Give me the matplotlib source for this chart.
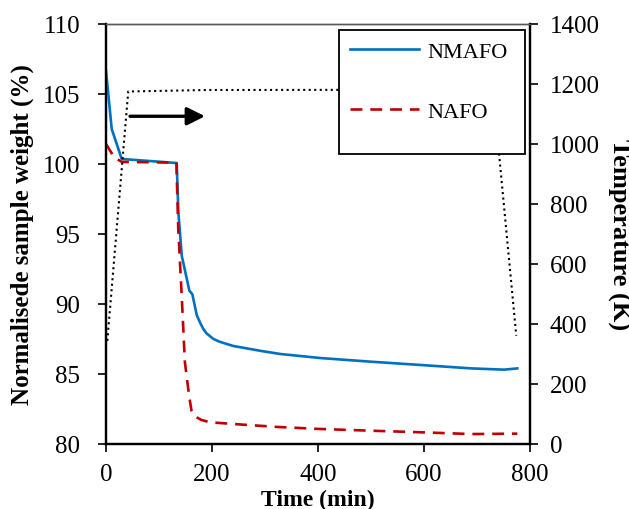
import matplotlib
matplotlib.use("Agg")
import matplotlib.pyplot as plt
from matplotlib.patches import Rectangle

plt.rcParams['font.family'] = ['Liberation Serif', 'DejaVu Serif']

# weight loss curves (min, % of initial)
time_nmafo = [0, 10.8, 29.7, 133.6, 136.7, 143.1, 157.5, 163.1, 171.5, 178, 184,
              190, 203, 215, 240.6, 291, 329, 405, 500, 600, 690, 752, 777]
weight_nmafo = [106.66, 102.5, 100.36, 100.07, 96.55, 93.45, 90.95, 90.7, 89.2, 88.65, 88.2,
                87.9, 87.5, 87.3, 87.0, 86.66, 86.43, 86.14, 85.88, 85.63, 85.4, 85.31, 85.4]

time_nafo = [0, 15, 29.6, 133, 136.5, 143, 149, 157, 161.5, 166, 171.5,
             180, 196.5, 259.5, 323, 400, 500, 600, 690, 777]
weight_nafo = [101.43, 100.5, 100.15, 100.1, 95.36, 90.6, 85.86, 83.45, 82.38, 82.05, 81.9,
               81.72, 81.55, 81.38, 81.22, 81.08, 80.95, 80.83, 80.71, 80.74]

# furnace temperature programme (min, K)
time_temp = [2.5, 42, 190, 731, 775]
temp = [344, 1175, 1180, 1181, 361]

fig = plt.figure(figsize=(6.29, 5.10), dpi=100)
ax = fig.add_axes([106 / 629, 1 - 445 / 510, 423.5 / 629, 420 / 510])
ax2 = ax.twinx()

l1, = ax.plot(time_nmafo, weight_nmafo, color='#0070C0', lw=1.9, label='NMAFO', zorder=3)
l2, = ax.plot(time_nafo, weight_nafo, color='#C00000', lw=1.9, ls=(0, (4.5, 3)),
              label='NAFO', zorder=3)
ax2.plot(time_temp, temp, color='black', lw=1.5, ls=':')

ax.annotate('', xy=(187, 103.41), xytext=(45.4, 103.41),
            arrowprops=dict(arrowstyle='-|>', color='black', lw=2.4,
                            mutation_scale=27, shrinkA=0, shrinkB=0))

ax.set_xlim(0, 800)
ax.set_ylim(80, 110)
ax2.set_ylim(0, 1400)
ax.set_xticks(range(0, 801, 200))
ax.set_yticks(range(80, 111, 5))
ax2.set_yticks(range(0, 1401, 200))

for a in (ax, ax2):
    for side in ('left', 'right', 'bottom'):
        a.spines[side].set_linewidth(1.6)
        a.spines[side].set_color('black')
    a.spines['top'].set_color('#595959')
    a.spines['top'].set_linewidth(1.0)
ax.tick_params(axis='both', direction='out', length=5.5, width=1.2, labelsize=18)
ax.tick_params(axis='y', pad=13)
ax.tick_params(axis='x', pad=8)
ax2.tick_params(axis='y', direction='out', length=5.5, width=1.2, labelsize=18, pad=9)

ax.set_xlabel('Time (min)', fontsize=17, fontweight='bold', labelpad=3)
ax.set_ylabel('Normalisede sample weight (%)', fontsize=18, fontweight='bold', labelpad=6)
ax2.set_ylabel('Temperature (K)', fontsize=19, fontweight='bold', rotation=270, labelpad=22)

# legend box with white fill, hides the temperature line behind it
box = Rectangle((0.550, 0.690), 0.439, 0.296, transform=ax2.transAxes,
                facecolor='white', edgecolor='black', lw=1.3, zorder=5)
ax2.add_patch(box)
leg = ax2.legend([l1, l2], ['NMAFO', 'NAFO'], loc='upper left',
                 bbox_to_anchor=(0.55, 0.986), frameon=False, fontsize=16,
                 handlelength=3.1, handletextpad=0.36, labelspacing=1.8,
                 borderpad=0.0)
leg.set_zorder(6)

fig.savefig('out.png', dpi=100)
